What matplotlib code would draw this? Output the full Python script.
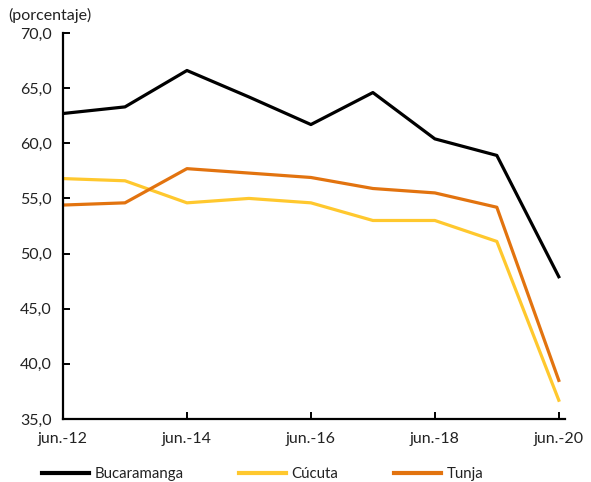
import matplotlib
matplotlib.use("Agg")
import matplotlib.pyplot as plt

years = ["jun.-12", "jun.-13", "jun.-14", "jun.-15", "jun.-16", "jun.-17", "jun.-18", "jun.-19", "jun.-20"]
bucaramanga = [62.7, 63.3, 66.6, 64.2, 61.7, 64.6, 60.4, 58.9, 47.9]
cucuta = [56.8, 56.6, 54.6, 55.0, 54.6, 53.0, 53.0, 51.1, 36.7]
tunja = [54.4, 54.6, 57.7, 57.3, 56.9, 55.9, 55.5, 54.2, 38.5]
yticks = [35, 40, 45, 50, 55, 60, 65, 70]

plt.rcParams['font.family'] = ['Lato', 'DejaVu Sans']
fig = plt.figure(figsize=(5.91, 4.82), dpi=100)
ax = fig.add_axes([63/591, 1-419/482, (565-63)/591, (419-33)/482])

x = list(range(len(years)))
ax.plot(x, bucaramanga, color="#000000", lw=2.3, label="Bucaramanga")
ax.plot(x, cucuta, color="#FFC82E", lw=2.3, label="Cúcuta")
ax.plot(x, tunja, color="#E2730F", lw=2.3, label="Tunja")

ax.set_xlim(0, 8.1)
ax.set_ylim(35, 70)
ax.set_yticks(yticks)
ax.set_yticklabels([f"{v:.1f}".replace(".", ",") for v in yticks])
ax.set_xticks(x[::2])
ax.set_xticklabels(years[::2])
for s in ["top", "right"]:
    ax.spines[s].set_visible(False)
for s in ["left", "bottom"]:
    ax.spines[s].set_linewidth(1.6)
ax.tick_params(direction="in", length=5, width=1.4, labelsize=11.5, colors="#000000", labelcolor="#222222")
ax.tick_params(axis="x", pad=9)
ax.tick_params(axis="y", pad=8)

fig.text(8/591, 1-15/482, "(porcentaje)", fontsize=11.5, color="#222222", va="center", ha="left")

leg = fig.legend(loc="center left", bbox_to_anchor=(42/591, 1-474/482), ncol=3, frameon=False,
                 fontsize=10.8, handlelength=3.1, columnspacing=3.7, handletextpad=0.4,
                 borderpad=0, borderaxespad=0)
for t in leg.get_texts():
    t.set_color("#222222")
for l in leg.get_lines():
    l.set_linewidth(3)

fig.savefig("out.png", dpi=100)
